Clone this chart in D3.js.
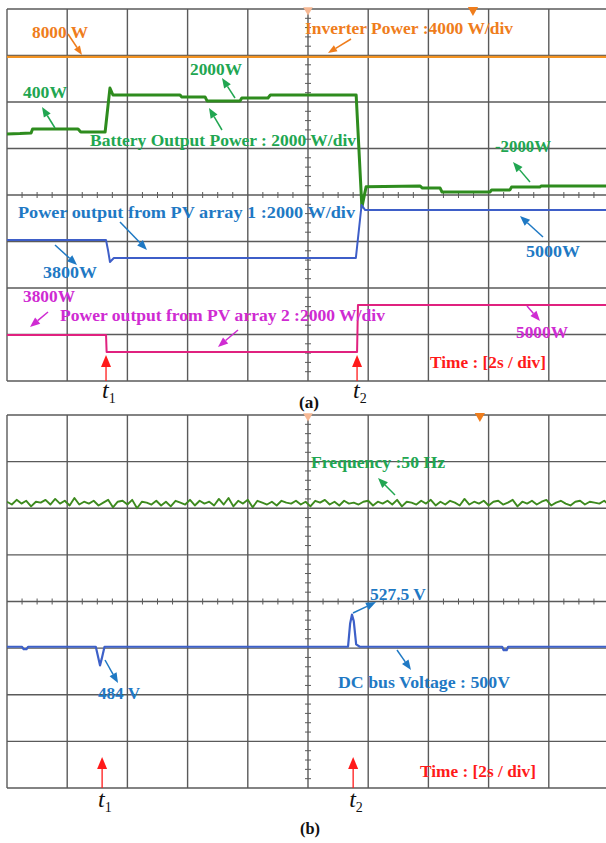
<!DOCTYPE html>
<html>
<head>
<meta charset="utf-8">
<script src="https://cdn.jsdelivr.net/npm/d3@7"></script>
<style>
  body { margin: 0; background: #fff; }
  svg { display: block; }
  text { font-family: "Liberation Serif", "Times New Roman", serif; font-weight: bold; }
</style>
</head>
<body>
<svg id="chart"></svg>
<script>
// time base: 10 div x 2 s/div
var timeGrid = [0, 2, 4, 6, 8, 10, 12, 14, 16, 18, 20];
var divGrid = [0, 1, 2, 3, 4, 5, 6, 7, 8];

// ---- (a) powers, [time s, value W]
var eventsA = [3.29, 11.63];
var inverterPower = [[0, 8000], [20, 8000]];
var batteryPower = [
  [0, 320], [0.43, 340], [0.8, 370], [0.85, 540], [2.36, 540], [2.45, 410],
  [3.26, 410], [3.42, 2300], [3.52, 2000], [5.75, 2000], [5.8, 1920], [6.58, 1920],
  [6.65, 1740], [7.74, 1740], [7.8, 1870], [8.67, 1870], [8.75, 2000], [11.6, 2000],
  [11.79, -2820], [11.93, -1950], [13.72, -1910], [13.8, -2000], [14.39, -2000],
  [14.45, -2170], [16.05, -2170], [16.1, -2080], [16.71, -2080], [16.76, -1960],
  [17.7, -1960], [17.75, -1910], [20, -1910]
];
var pv1Power = [[0, 3760], [3.29, 3760], [3.36, 3300], [3.42, 2820], [3.55, 2990],
  [11.59, 2990], [11.78, 5270], [11.9, 5050], [20, 5050]];
var pv2Power = [[0, 3780], [3.29, 3780], [3.31, 3050], [11.63, 3050], [11.66, 5070], [20, 5070]];

// ---- (b) frequency (Hz, even samples over 20 s) and DC bus [time s, V]
var eventsB = [3.16, 11.5];
var frequency = [
  50.01, 49.98, 50.03, 49.99, 50.02, 49.96, 50.01, 50.00, 50.03, 49.98,
  50.04, 49.99, 50.02, 49.97, 50.05, 49.98, 50.01, 49.99, 50.02, 49.97,
  50.00, 50.03, 49.95, 50.01, 50.02, 49.98, 50.03, 49.94, 50.01, 50.00,
  49.98, 50.02, 49.97, 50.01, 49.96, 50.02, 50.00, 49.98, 50.03, 49.97,
  50.02, 49.99, 50.01, 49.97, 50.04, 49.98, 50.05, 49.96, 50.02, 49.99,
  50.03, 49.95, 50.02, 50.00, 49.98, 50.01, 49.97, 50.02, 50.00, 49.99,
  50.02, 49.98, 50.01, 49.96, 50.02, 50.00, 50.03, 49.98, 50.01, 49.97,
  50.02, 49.99, 50.00, 49.98, 50.01, 50.02, 49.97, 50.01, 49.99, 50.02,
  49.98, 50.03, 49.96, 50.01, 50.00, 49.98, 50.02, 49.99, 50.03, 49.97,
  50.01, 49.98, 50.02, 50.00, 49.97, 50.04, 49.98, 50.01, 49.99, 50.02,
  49.97, 50.01, 50.02, 49.98, 50.00, 50.03, 49.96, 50.01, 49.99, 50.02,
  49.98, 50.01, 50.03, 49.97, 50.00, 50.02, 49.99, 49.97, 50.01, 50.02,
  49.98, 50.01, 50.00, 49.99, 50.02, 49.98
];
var dcBusVoltage = [
  [0, 500], [0.5, 500], [0.55, 498], [0.65, 498], [0.7, 500], [2.95, 500],
  [3.02, 492], [3.09, 484], [3.15, 490], [3.24, 500], [11.33, 500], [11.4, 520],
  [11.46, 527.5], [11.52, 522], [11.6, 502], [11.72, 500], [16.45, 500], [16.5, 497],
  [16.6, 497], [16.65, 500], [20, 500]
];

var W = 606, H = 843;
var svg = d3.select('#chart').attr('width', W).attr('height', H);

var x = d3.scaleLinear().domain([0, 20]).range([7, 609]);

var orange = '#ef7d1c', green = '#21a651', blue = '#1f79c4', magenta = '#cf2bd2', red = '#ff1a1a';

function drawPanel(top, bottom, id) {
  var y = d3.scaleLinear().domain([0, 8]).range([bottom, top]);
  var g = svg.append('g');
  g.append('clipPath').attr('id', id).append('rect')
    .attr('x', 7).attr('y', top).attr('width', 603).attr('height', bottom - top);

  g.selectAll('.vg').data(timeGrid).enter().append('line')
    .attr('x1', function(d) { return x(d); }).attr('x2', function(d) { return x(d); })
    .attr('y1', top).attr('y2', bottom)
    .attr('stroke', '#5a5a5a').attr('stroke-width', 1.4);
  g.selectAll('.hg').data(divGrid).enter().append('line')
    .attr('x1', x(0)).attr('x2', x(20))
    .attr('y1', function(d) { return y(d); }).attr('y2', function(d) { return y(d); })
    .attr('stroke', '#5a5a5a').attr('stroke-width', 1.4);

  // minor ticks on the centre axes
  var xt = d3.range(0, 20.01, 0.5).filter(function(t) { return t % 2 !== 0; });
  g.selectAll('.xt').data(xt).enter().append('line')
    .attr('x1', function(d) { return x(d); }).attr('x2', function(d) { return x(d); })
    .attr('y1', y(4) - 3).attr('y2', y(4) + 3)
    .attr('stroke', '#5a5a5a').attr('stroke-width', 1);
  var yt = d3.range(0, 8.01, 0.2).filter(function(v) { return Math.abs(v - Math.round(v)) > 0.01; });
  g.selectAll('.yt').data(yt).enter().append('line')
    .attr('x1', x(10) - 3).attr('x2', x(10) + 3)
    .attr('y1', function(d) { return y(d); }).attr('y2', function(d) { return y(d); })
    .attr('stroke', '#5a5a5a').attr('stroke-width', 1);

  // trigger markers
  g.append('path').attr('d', d3.symbol(d3.symbolTriangle, 40)())
    .attr('transform', 'translate(' + x(10) + ',' + (top + 1) + ') rotate(180)')
    .attr('fill', '#f6b894');
  return { g: g, y: y };
}

function channel(p, clipId, data, ref, refDiv, perDiv, color, width) {
  var line = d3.line()
    .x(function(d) { return x(d[0]); })
    .y(function(d) { return p.y(refDiv + (d[1] - ref) / perDiv); });
  p.g.append('path').datum(data)
    .attr('clip-path', 'url(#' + clipId + ')')
    .attr('fill', 'none').attr('stroke', color).attr('stroke-width', width)
    .attr('stroke-linejoin', 'round')
    .attr('d', line);
}

function arrow(from, to, color, len, wid, sw) {
  var dx = to[0] - from[0], dy = to[1] - from[1];
  var L = Math.sqrt(dx * dx + dy * dy), ux = dx / L, uy = dy / L;
  var bx = to[0] - ux * len, by = to[1] - uy * len;
  svg.append('line').attr('x1', from[0]).attr('y1', from[1]).attr('x2', bx).attr('y2', by)
    .attr('stroke', color).attr('stroke-width', sw);
  svg.append('path')
    .attr('d', 'M' + to[0] + ',' + to[1] + 'L' + (bx - uy * wid / 2) + ',' + (by + ux * wid / 2) +
      'L' + (bx + uy * wid / 2) + ',' + (by - ux * wid / 2) + 'Z')
    .attr('fill', color);
}

function label(txt, px, py, color, width, size) {
  svg.append('text').attr('x', px).attr('y', py)
    .attr('fill', color).attr('font-size', size || 17)
    .attr('textLength', width).attr('lengthAdjust', 'spacingAndGlyphs')
    .text(txt);
}

function eventMarks(events, bottom, headTop, labelY) {
  events.forEach(function(t, i) {
    arrow([x(t), bottom], [x(t), headTop], red, 12, 10, 1.3);
    var lt = svg.append('text').attr('x', x(t) - 4).attr('y', labelY)
      .attr('font-size', 24).style('font-style', 'italic').style('font-weight', 'normal')
      .attr('fill', '#111').text('t');
    lt.append('tspan').attr('font-size', 14).style('font-style', 'normal')
      .attr('dy', 5).text(String(i + 1));
  });
}

// ---------- panel (a)
var pa = drawPanel(9, 381, 'clipA');
pa.g.append('path').attr('d', d3.symbol(d3.symbolTriangle, 45)())
  .attr('transform', 'translate(' + x(15.48) + ',10) rotate(180)').attr('fill', orange);
channel(pa, 'clipA', inverterPower, 0, 4.97, 4000, '#f39322', 2.2);
channel(pa, 'clipA', batteryPower, 0, 5.15, 2000, '#2e8c1e', 3);
channel(pa, 'clipA', pv1Power, 0, 1.15, 2000, '#3e5ec8', 2);
channel(pa, 'clipA', pv2Power, 0, -0.9, 2000, '#e0217f', 2);

label('8000 W', 32, 38, orange, 56);
arrow([68, 34], [82, 55], orange, 9, 7, 1.5);
label('Inverter Power :4000 W/div', 305, 34, orange, 208);
arrow([351, 39], [328, 53], orange, 9, 7, 1.5);
label('400W', 23, 98, green, 44);
arrow([55, 128], [42, 107], green, 10, 8, 1.5);
label('2000W', 190, 75, green, 52);
arrow([235, 98], [222, 78], green, 10, 8, 1.5);
label('Battery Output Power : 2000 W/div', 90, 146, green, 266);
arrow([222, 130], [209, 108], green, 10, 8, 1.5);
label('-2000W', 495, 152, green, 56);
arrow([530, 182], [513, 162], green, 10, 8, 1.5);
label('Power output from PV array 1 :2000 W/div', 18, 218, blue, 337);
arrow([120, 222], [147, 250], blue, 10, 8, 1.5);
label('3800W', 43, 278, blue, 54);
arrow([55, 245], [77, 265], blue, 10, 8, 1.5);
label('5000W', 526, 257, blue, 54);
arrow([543, 237], [520, 216], blue, 10, 8, 1.5);
label('3800W', 23, 302, magenta, 52);
arrow([48, 312], [30, 327], magenta, 10, 8, 1.5);
label('Power output from PV array 2 :2000 W/div', 60, 321, magenta, 325);
arrow([238, 330], [218, 347], magenta, 10, 8, 1.5);
label('5000W', 516, 338, magenta, 52);
arrow([527, 306], [540, 321], magenta, 10, 8, 1.5);
label('Time : [2s / div]', 430, 368, red, 116);
eventMarks(eventsA, 381, 355, 398);
label('(a)', 299, 408, '#111', 20, 17);

// ---------- panel (b)
var pb = drawPanel(415, 788, 'clipB');
pb.g.append('path').attr('d', d3.symbol(d3.symbolTriangle, 45)())
  .attr('transform', 'translate(' + x(15.71) + ',416) rotate(180)').attr('fill', orange);
var freqPts = frequency.map(function(v, i) { return [i * 20 / (frequency.length - 1), v]; });
channel(pb, 'clipB', freqPts, 50, 6.12, 0.5, '#3d8a1e', 1.9);
channel(pb, 'clipB', dcBusVoltage, 500, 3.03, 40, '#3d60c8', 2.2);

label('Frequency :50 Hz', 311, 468, green, 134);
arrow([395, 495], [378, 478], green, 10, 8, 1.5);
label('527.5 V', 370, 600, blue, 56);
arrow([353, 613], [376, 602], blue, 10, 8, 1.5);
label('484 V', 98, 699, blue, 42);
arrow([105, 660], [118, 683], blue, 10, 8, 1.5);
label('DC bus Voltage : 500V', 338, 688, blue, 172);
arrow([397, 650], [411, 670], blue, 10, 8, 1.5);
label('Time : [2s / div]', 420, 777, red, 116);
eventMarks(eventsB, 788, 757, 807);
label('(b)', 300, 834, '#111', 20, 17);
</script>
</body>
</html>
